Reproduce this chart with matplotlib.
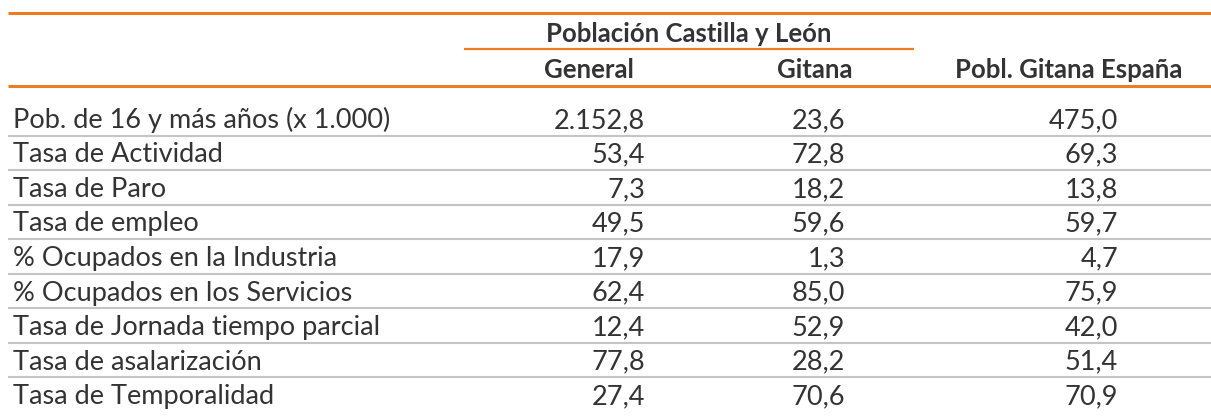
import matplotlib
matplotlib.use("Agg")
import matplotlib.pyplot as plt

# Tabla: mercado laboral, poblacion general vs gitana
labels = [
    "Pob. de 16 y más años (x 1.000)",
    "Tasa de Actividad",
    "Tasa de Paro",
    "Tasa de empleo",
    "% Ocupados en la Industria",
    "% Ocupados en los Servicios",
    "Tasa de Jornada tiempo parcial",
    "Tasa de asalarización",
    "Tasa de Temporalidad",
]
general = [2152.8, 53.4, 7.3, 49.5, 17.9, 62.4, 12.4, 77.8, 27.4]
gitana = [23.6, 72.8, 18.2, 59.6, 1.3, 85.0, 52.9, 28.2, 70.6]
gitana_espana = [475.0, 69.3, 13.8, 59.7, 4.7, 75.9, 42.0, 51.4, 70.9]

group_title = "Población Castilla y León"
col_headers = ["General", "Gitana", "Pobl. Gitana España"]

ORANGE = "#f07c22"
GREY = "#c4c4c4"
TEXT = "#333333"
FONT = "Lato"


def fmt(v):
    # formato espanol: punto para miles, coma decimal
    s = f"{v:,.1f}"
    return s.replace(",", "X").replace(".", ",").replace("X", ".")


fig = plt.figure(figsize=(12.11, 4.2), dpi=100)
ax = fig.add_axes([0, 0, 1, 1])
ax.set_xlim(0, 1211)
ax.set_ylim(420, 0)
ax.axis("off")

# lineas de cabecera
ax.hlines(13, 8, 1211, color=ORANGE, lw=2.2)
ax.hlines(49, 464, 914, color=ORANGE, lw=1.6)
ax.hlines(86, 8, 1211, color=ORANGE, lw=2.2)

ax.text(689, 42, group_title, ha="center", va="baseline", fontsize=18.5,
        family=FONT, weight="bold", color=TEXT)
header_x = [589, 815, 1069]
for x, h in zip(header_x, col_headers):
    ax.text(x, 78, h, ha="center", va="baseline", fontsize=18.5,
            family=FONT, weight="bold", color=TEXT)

num_x = [645, 845, 1118]
row_h = 34.5
for i, lab in enumerate(labels):
    base = 128 + i * row_h
    ax.text(13, base, lab, ha="left", va="baseline", fontsize=19.5,
            family=FONT, weight="normal", color=TEXT)
    for x, col in zip(num_x, [general, gitana, gitana_espana]):
        ax.text(x, base, fmt(col[i]), ha="right", va="baseline", fontsize=19.5,
                family=FONT, weight="normal", color=TEXT)
    if i < len(labels) - 1:
        ax.hlines(base + 7.5, 8, 1211, color=GREY, lw=1.5)

fig.savefig("out.png", dpi=100)
